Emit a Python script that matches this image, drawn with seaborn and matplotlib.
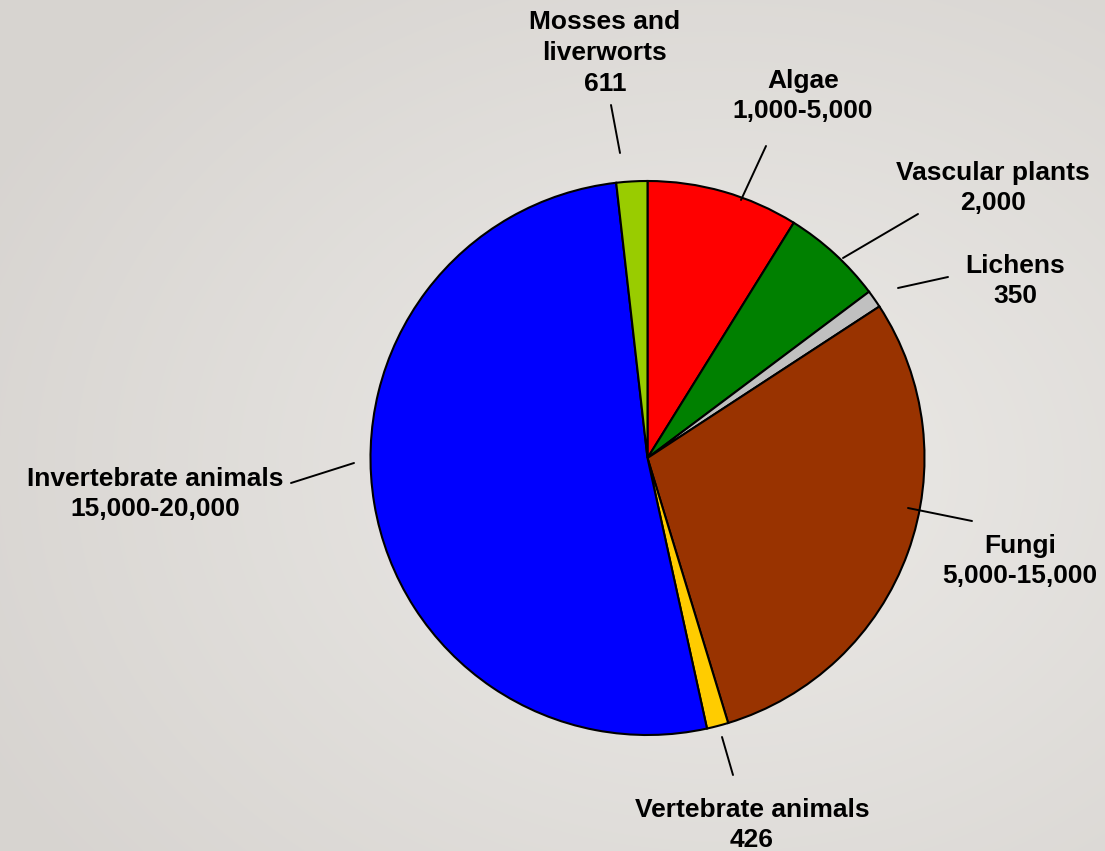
import numpy as np
import matplotlib
matplotlib.use("Agg")
import matplotlib.pyplot as plt
import seaborn as sns

# ---- data ----
categories = ["Algae", "Vascular plants", "Lichens", "Fungi",
              "Vertebrate animals", "Invertebrate animals", "Mosses and\nliverworts"]
values = [3000, 2000, 350, 10000, 426, 17500, 611]
value_labels = ["1,000-5,000", "2,000", "350", "5,000-15,000", "426",
                "15,000-20,000", "611"]
colors = ["#FF0000", "#008000", "#C0C0C0", "#993300", "#FFCC00", "#0000FF", "#99CC00"]

# label placement (pixel coords of text centre) and leader lines (pixel coords)
label_pos = [(803, 96), (993, 188), (1015, 281), (1020, 561), (752, 825), (155, 494), (605, 53)]
leaders = [((766, 146), (741, 200)), ((918, 214), (843, 258)), ((948, 277), (898, 288)),
           ((972, 521), (908, 508)), ((733, 775), (722, 737)), ((291, 483), (354, 463)),
           ((611, 105), (620, 153))]

sns.set_theme(style="white")
plt.rcParams['font.family'] = ['Liberation Sans', 'DejaVu Sans']

W, H = 1105, 851
fig = plt.figure(figsize=(W / 100, H / 100), dpi=100)

# background radial gradient
bg = fig.add_axes([0, 0, 1, 1])
yy, xx = np.mgrid[0:H, 0:W]
d = np.sqrt(((xx - 720) / W) ** 2 + ((yy - 470) / H) ** 2)
d = np.clip(d / 0.75, 0, 1)
c0 = np.array([0.925, 0.918, 0.906])
c1 = np.array([0.845, 0.832, 0.818])
img = c0[None, None, :] * (1 - d[..., None]) + c1[None, None, :] * d[..., None]
bg.imshow(img, extent=[0, W, 0, H], origin="upper", aspect="auto")
bg.set_axis_off()

ax = fig.add_axes([0, 0, 1, 1])
ax.set_xlim(0, W)
ax.set_ylim(0, H)
ax.set_axis_off()
ax.patch.set_alpha(0)

cx, cy, r = 647.5, H - 458, 277
ax.pie(values, colors=colors, startangle=90, counterclock=False,
       center=(cx, cy), radius=r, frame=True,
       wedgeprops=dict(edgecolor="black", linewidth=1.5))
ax.set_xlim(0, W)
ax.set_ylim(0, H)
ax.set_axis_off()

for cat, val, (tx, ty) in zip(categories, value_labels, label_pos):
    ax.text(tx, H - ty, f"{cat}\n{val}", ha="center", va="center",
            fontsize=19, fontweight="bold", color="black", linespacing=1.36)

for (p0, p1) in leaders:
    ax.plot([p0[0], p1[0]], [H - p0[1], H - p1[1]], color="black", lw=1.4)

fig.savefig("out.png", dpi=100)
